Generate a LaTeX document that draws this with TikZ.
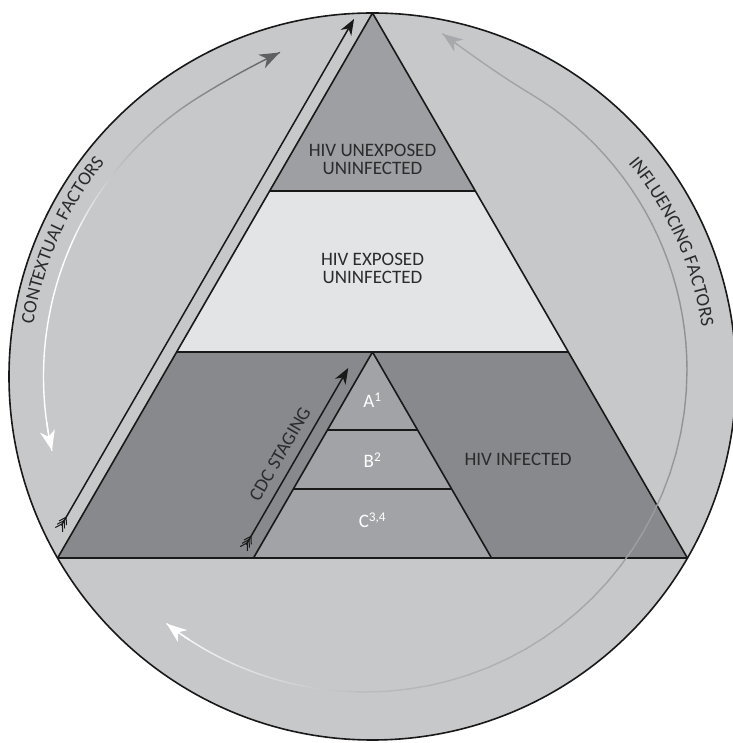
\documentclass[tikz,border=0pt]{standalone}
\usepackage{fontspec}
\setmainfont{Carlito}
\usetikzlibrary{arrows.meta,decorations.text,calc}
\definecolor{bgc}{HTML}{C7C8CA}
\definecolor{topc}{HTML}{9E9FA2}
\definecolor{midc}{HTML}{E3E4E6}
\definecolor{infc}{HTML}{88898C}
\definecolor{smallc}{HTML}{A2A3A6}
\definecolor{txtc}{HTML}{2B2B2D}
\definecolor{darkarc}{HTML}{5F6063}
\definecolor{ctxmid}{HTML}{BDBEC0}
\definecolor{infbot}{HTML}{BBBCBE}
\definecolor{infmid}{HTML}{8E8F92}
\definecolor{inftop}{HTML}{A8A9AC}
\colorlet{ctxq}{darkarc!53!ctxmid}
\colorlet{infq}{infmid!25!inftop}
% #1 centre, #2 a1, #3 a2, #4 r1, #5 r2, #6 exponent, #7 col1, #8 col2
\newcommand\gradarc[8]{%
  \foreach \gI in {1,...,24}{%
    \pgfmathsetmacro\gA{#2+(\gI-1)*(#3-(#2))/24}%
    \pgfmathsetmacro\gB{#2+\gI*(#3-(#2))/24}%
    \pgfmathsetmacro\gRA{#4+(#5-(#4))*((\gI-1)/24)^#6}%
    \pgfmathsetmacro\gRB{#4+(#5-(#4))*(\gI/24)^#6}%
    \pgfmathsetmacro\gP{100-(\gI-0.5)*100/24}%
    \draw[arcline, draw=#7!\gP!#8] ($(#1)+(\gA:\gRA)$) -- ($(#1)+(\gB:\gRB)$);
  }}
\newcommand\fletchat[1]{%
  \foreach \fd in {2,5.8,9.6}{%
    \draw[fletch] ($(#1)+(60:\fd)+(208:8)$) -- ($(#1)+(60:\fd)$) -- ($(#1)+(60:\fd)+(272:8)$);
  }}
\begin{document}
\begin{tikzpicture}[x=1pt,y=1pt,line join=round,
  outline/.style={draw=black!90, line width=1.6},
  lbl/.style={font=\fontsize{19}{18}\selectfont, text=txtc, align=center, inner sep=0},
  wlbl/.style={font=\fontsize{19}{18}\selectfont, text=white, inner sep=0},
  shaft/.style={draw=black!90, line width=1.5, -{Stealth[length=16pt,width=12pt,inset=5pt]}},
  fletch/.style={draw=black!90, line width=1.0},
  arcline/.style={line width=1.4, line cap=round},
  arctip/.style={line width=1.4, -{Stealth[length=20pt,width=15pt,inset=6pt]}},
]
\useasboundingbox (0,0) rectangle (732,743);
\coordinate (C) at (372.5,366.5);
\coordinate (IC) at (365,373);
% circle
\draw[outline, fill=bgc] (C) circle[radius=363.5];
% big triangle
\coordinate (apex) at (372.5,730);
\coordinate (bl) at (57.6,185);
\coordinate (br) at (687.4,185);
\coordinate (l1) at (269.66,552);
\coordinate (r1) at (475.34,552);
\coordinate (l2) at (176.63,391);
\coordinate (r2) at (568.37,391);
\fill[topc] (apex) -- (l1) -- (r1) -- cycle;
\fill[midc] (l1) -- (l2) -- (r2) -- (r1) -- cycle;
\fill[infc] (l2) -- (bl) -- (br) -- (r2) -- cycle;
% small triangle
\coordinate (sa) at (372.5,391);
\coordinate (sbl) at (253.47,185);
\coordinate (sbr) at (491.53,185);
\coordinate (sl1) at (327.43,313);
\coordinate (sr1) at (417.57,313);
\coordinate (sl2) at (293.34,254);
\coordinate (sr2) at (451.66,254);
\fill[smallc] (sa) -- (sbl) -- (sbr) -- cycle;
\draw[outline] (sa) -- (sbl) -- (sbr) -- cycle;
\draw[outline] (sl1) -- (sr1);
\draw[outline] (sl2) -- (sr2);
\draw[outline] (apex) -- (bl) -- (br) -- cycle;
\draw[outline] (l1) -- (r1);
\draw[outline] (l2) -- (r2);
% big arrow
\coordinate (btail) at (61.35,217.48);
\coordinate (btip) at (354.04,724.0);
\draw[shaft] (btail) -- (btip);
\fletchat{btail}
% CDC arrow
\coordinate (ctail) at (246.2,198.4);
\coordinate (ctip) at (348.3,375.1);
\draw[shaft] (ctail) -- (ctip);
\fletchat{ctail}
% labels
\node[lbl] (unexp) at (372.5,583.6) {HIV UNEXPOSED\\UNINFECTED};
\node[lbl] (exp) at (372.5,475) {HIV EXPOSED\\UNINFECTED};
\node[lbl] (inf) at (518,284) {HIV INFECTED};
\node[wlbl, anchor=base] (stA) at (372.5,335) {A\textsuperscript{1}};
\node[wlbl, anchor=base] (stB) at (372.5,275) {B\textsuperscript{2}};
\node[wlbl, anchor=base] (stC) at (372.5,215) {C\textsuperscript{3,4}};
\node[lbl, rotate=60] (cdc) at (280,289) {CDC STAGING};
% contextual arc
\gradarc{C}{122}{106}{329}{337}{2}{ctxq}{darkarc}
\gradarc{C}{122}{140}{329}{329}{1}{ctxq}{ctxmid}
\gradarc{C}{140}{156}{329}{329}{1}{ctxmid}{white}
\draw[arcline, white] ($(C)+(156:329)$) arc[start angle=156, end angle=193, radius=329];
\draw[arctip, darkarc] ($(C)+(108.5:334.7)$) -- ($(C)+(106:337)$);
\draw[arctip, white] ($(C)+(188:329)$) arc[start angle=188, end angle=193, radius=329];
% influencing arc
\gradarc{IC}{-128}{-90}{322}{322}{1}{white}{infbot}
\gradarc{IC}{-90}{0}{322}{322}{1}{infbot}{infmid}
\gradarc{IC}{0}{59}{322}{322}{1}{infmid}{infq}
\gradarc{IC}{59}{77}{322}{345}{2}{infq}{inftop}
\draw[arctip, white] ($(IC)+(-123:322)$) arc[start angle=-123, end angle=-128, radius=322];
\draw[arctip, inftop] ($(IC)+(74:338)$) -- ($(IC)+(77:345)$);
% curved labels
\path[decorate, decoration={text along path, text align=center,
  text={|\fontsize{19}{19}\selectfont\color{txtc}|CONTEXTUAL FACTORS}}]
  ($(C)+(186.3:343)$) arc[start angle=186.3, end angle=126.3, radius=343];
\path[decorate, decoration={text along path, text align=center,
  text={|\fontsize{19}{19}\selectfont\color{txtc}|INFLUENCING FACTORS}}]
  ($(C)+(54.2:333)$) arc[start angle=54.2, end angle=-5.8, radius=333];
\end{tikzpicture}
\end{document}
